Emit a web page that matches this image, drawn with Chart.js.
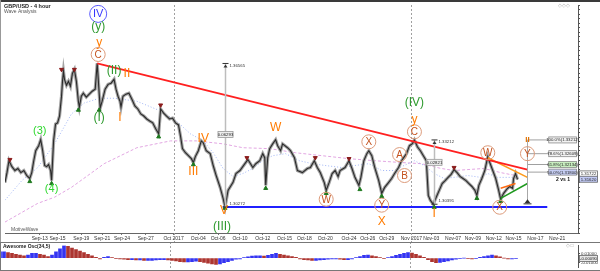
<!DOCTYPE html>
<html>
<head>
<meta charset="utf-8">
<title>GBP/USD - 4 hour</title>
<script src="https://cdn.jsdelivr.net/npm/chart.js@4.4.1/dist/chart.umd.min.js"></script>
<style>
  body { margin: 0; background: #fff; }
  #wrap { position: relative; width: 600px; height: 271px; overflow: hidden; background: #fff; }
  #chart { position: absolute; left: 0; top: 0; }
  #osc { position: absolute; left: 0; top: 242px; }
</style>
</head>
<body>
<div id="wrap">
  <canvas id="chart" width="600" height="242"></canvas>
  <canvas id="osc" width="600" height="29"></canvas>
</div>
<script>
const FONT = '"Liberation Sans", Arial, sans-serif'

// x is counted in 4-hour bars from the left edge of the chart
const dateTickBars = [17.5, 26.5, 38.5, 49, 59, 71, 85, 97.5, 107.5, 118.5, 130, 141, 151, 161.5, 173.5, 183, 192.5, 205, 215, 226, 236, 246.5, 256.5, 267.5, 278.5]
const dateTickLabels = ['Sep-13', 'Sep-15', 'Sep-19', 'Sep-21', 'Sep-24', 'Sep-27', 'Oct 2017', 'Oct-04', 'Oct-06', 'Oct-10', 'Oct-12', 'Oct-15', 'Oct-18', 'Oct-20', 'Oct-24', 'Oct-26', 'Oct-29', 'Nov 2017', 'Nov-03', 'Nov-07', 'Nov-09', 'Nov-12', 'Nov-15', 'Nov-17', 'Nov-21']
const monthStartBars = [85, 205]

// [bar, price]
const pricePath = [
  [0,1.3135],[1,1.3178],[2,1.3230],[3.5,1.3204],[5,1.3187],[6.5,1.3196],[8,1.3178],[9.5,1.3187],[11,1.3165],[12.5,1.3152],
  [13.5,1.3178],[14.5,1.3230],[15.5,1.3274],[17,1.3296],[18,1.3322],[19,1.3274],[20,1.3209],[21,1.3204],[22,1.3213],[23,1.3187],
  [23.5,1.3143],[24.5,1.3317],[25.5,1.3391],[26.5,1.3396],[27.5,1.3426],[28.5,1.3513],[29,1.3578],[29.5,1.3622],[30,1.3587],[31,1.3561],
  [32,1.3578],[33,1.3557],[34,1.3613],[35,1.3630],[36,1.3578],[37,1.3491],[37.5,1.3465],[38.5,1.3513],[39.5,1.3526],[41,1.3509],
  [42.5,1.3522],[44,1.3535],[45.5,1.3544],[46.5,1.3657],[47.5,1.3526],[48,1.3461],[49,1.3491],[50.5,1.3544],[52,1.3565],[53.5,1.3570],
  [55,1.3587],[56,1.3544],[57,1.3513],[58,1.3491],[58.5,1.3465],[59.5,1.3513],[61,1.3522],[62.5,1.3526],[64,1.3500],[65.5,1.3470],
  [67,1.3457],[68.5,1.3435],[70,1.3426],[71.5,1.3413],[73,1.3404],[74.5,1.3396],[76,1.3370],[77.5,1.3348],[78.5,1.3457],[80,1.3439],
  [81.5,1.3426],[83,1.3413],[84.5,1.3417],[86,1.3396],[87.5,1.3387],[88.5,1.3339],[89.5,1.3283],[91,1.3265],[92.5,1.3252],[94,1.3239],
  [95,1.3222],[96,1.3248],[97.5,1.3274],[99,1.3317],[100,1.3309],[101.5,1.3274],[103.5,1.3261],[105,1.3209],[106.5,1.3165],[108.5,1.3113],
  [110,1.3065],[111,1.3027],[112.5,1.3100],[115,1.3135],[116.5,1.3174],[118.5,1.3187],[121,1.3217],[122.5,1.3235],[125,1.3200],[126.5,1.3217],
  [128.5,1.3230],[130,1.3261],[131,1.3243],[131.5,1.3122],[132.5,1.3243],[133.5,1.3283],[135,1.3304],[136.5,1.3322],[137.5,1.3296],[139,1.3274],
  [140,1.3304],[142.5,1.3287],[144,1.3274],[146,1.3243],[147.5,1.3187],[150,1.3178],[152.5,1.3196],[154,1.3200],[156,1.3230],[157.5,1.3200],
  [159,1.3178],[161,1.3135],[162,1.3100],[163.5,1.3135],[165,1.3174],[166.5,1.3187],[168,1.3161],[169,1.3187],[171.5,1.3200],[173.5,1.3230],
  [175,1.3196],[176.5,1.3157],[178.5,1.3122],[179.5,1.3157],[181,1.3230],[182.5,1.3261],[183.5,1.3274],[185,1.3252],[186.5,1.3200],[188.5,1.3143],
  [190,1.3087],[191.5,1.3113],[193.5,1.3135],[195,1.3152],[196.5,1.3174],[198.5,1.3200],[200,1.3230],[202.5,1.3261],[204,1.3296],[205.5,1.3305],
  [206.5,1.3321],[208,1.3291],[209.5,1.3274],[211,1.3252],[212.5,1.3230],[213.5,1.3078],[214.5,1.3057],[216,1.3039],[217.5,1.3070],[219,1.3100],
  [220.5,1.3130],[222,1.3143],[223.5,1.3157],[225,1.3170],[226.5,1.3191],[228,1.3178],[229.5,1.3161],[231,1.3152],[232.5,1.3143],[234,1.3130],
  [235.5,1.3117],[237,1.3100],[238,1.3078],[239,1.3122],[240.5,1.3152],[242,1.3187],[243.5,1.3248],[244.5,1.3222],[246,1.3187],[247.5,1.3152],
  [249,1.3100],[250,1.3061],[251.5,1.3087],[253,1.3104],[254.5,1.3117],[256,1.3109],[256.5,1.3152],[257.5,1.3174],[258.5,1.3148]
]

const fastMA = [[0,1.3057],[8.5,1.3143],[16.5,1.3200],[25,1.3304],[33.5,1.3435],[40,1.3483],[47.5,1.3504],[55,1.3504],[66.5,1.3491],[78.5,1.3448],
  [86.5,1.3404],[93.5,1.3348],[100,1.3317],[105,1.3265],[110,1.3196],[115,1.3161],[120,1.3174],[125,1.3196],[130,1.3230],[135,1.3252],
  [141.5,1.3261],[148.5,1.3230],[155,1.3217],[161.5,1.3209],[170,1.3200],[176.5,1.3209],[183.5,1.3217],[190,1.3187],[196.5,1.3187],[200,1.3204],
  [206.5,1.3230],[211.5,1.3209],[216.5,1.3174],[221.5,1.3152],[226.5,1.3157],[233.5,1.3165],[240,1.3157],[243.5,1.3174],[248.5,1.3157],[257.5,1.3157]]
const slowMA = [[0,1.2961],[16.5,1.3043],[25,1.3070],[33.5,1.3113],[50,1.3217],[66.5,1.3287],[83.5,1.3317],[96.5,1.3317],[110,1.3304],[120,1.3287],
  [133.5,1.3283],[146.5,1.3265],[160,1.3252],[173.5,1.3239],[186.5,1.3230],[200,1.3222],[210,1.3217],[220,1.3196],[226.5,1.3187],[241.5,1.3196],
  [250,1.3178],[257.5,1.3165]]

const swingHighs = [[2.5,1.3235],[28.5,1.3630],[35,1.3630],[78.5,1.3474],[122,1.3243],[156.5,1.3243],[173.5,1.3239],[226.5,1.3200]]
const swingLows = [[12.5,1.3139],[23.5,1.3130],[37,1.3452],[47.5,1.3452],[77.5,1.3335],[95,1.3213],[111,1.3022],[131.5,1.3109],
  [162,1.3087],[179,1.3104],[190,1.3074],[216.5,1.3026],[238,1.3065],[250,1.3052]]

const redTrend = [[46.5,1.3657],[263.5,1.3191]]
const orangeTrend = [[243.5,1.3243],[263.5,1.3157]]
const greenTrend = [[250,1.3065],[263.5,1.3130]]
const innerTrend = [[250,1.3109],[257.5,1.3130]]
const supportLevel = 1.3027
const supportBars = [110, 273.5]

const measureBars = [111, 216.5]
const measureHighs = [1.36565, 1.33212]
const measureLows = [1.30272, 1.30391]
const measureBoxPrices = [1.3345, 1.3223]

const targetBar = 263.5
const targetRange = [1.3043, 1.3321]
const fibLabels = ['100.0%', '78.6%', '61.8%', '50.0%']
const fibPrices = [1.33212, 1.32609, 1.32134, 1.31800]
const fibEndBar = 274
const lastPrices = [1.31722, 1.31620]

const waveLabels = [
  {bar: 47, price: 1.3874, text: 'IV', kind: 'blueCircle'},
  {bar: 47, price: 1.3822, text: '(y)', kind: 'green'},
  {bar: 47.5, price: 1.3748, text: 'y', kind: 'orange'},
  {bar: 47, price: 1.3696, text: 'C', kind: 'circle'},
  {bar: 55, price: 1.3626, text: '(II)', kind: 'green'},
  {bar: 61.5, price: 1.3613, text: 'II', kind: 'orange'},
  {bar: 17.5, price: 1.3361, text: '(3)', kind: 'lime'},
  {bar: 23.5, price: 1.3109, text: '(4)', kind: 'lime'},
  {bar: 47.5, price: 1.3422, text: '(I)', kind: 'green'},
  {bar: 58, price: 1.3422, text: 'I', kind: 'orange'},
  {bar: 95, price: 1.3183, text: 'III', kind: 'orange'},
  {bar: 100, price: 1.3330, text: 'IV', kind: 'orange'},
  {bar: 110.5, price: 1.3013, text: 'V', kind: 'orange'},
  {bar: 109.5, price: 1.2943, text: '(III)', kind: 'green'},
  {bar: 136.5, price: 1.3378, text: 'W', kind: 'orange'},
  {bar: 162, price: 1.3061, text: 'W', kind: 'circle'},
  {bar: 183.5, price: 1.3313, text: 'X', kind: 'circle'},
  {bar: 190, price: 1.3035, text: 'Y', kind: 'circle'},
  {bar: 190, price: 1.2965, text: 'X', kind: 'orange'},
  {bar: 199, price: 1.3257, text: 'A', kind: 'circle'},
  {bar: 201.5, price: 1.3165, text: 'B', kind: 'circle'},
  {bar: 206.5, price: 1.3357, text: 'C', kind: 'circle'},
  {bar: 206.5, price: 1.3413, text: 'y', kind: 'orange'},
  {bar: 206.5, price: 1.3487, text: '(IV)', kind: 'green'},
  {bar: 216.5, price: 1.3000, text: 'I', kind: 'orange'},
  {bar: 243.5, price: 1.3265, text: 'W', kind: 'circle'},
  {bar: 249.5, price: 1.3026, text: 'X', kind: 'circle'},
  {bar: 263.5, price: 1.3261, text: 'Y', kind: 'circle'},
  {bar: 263.5, price: 1.3324, text: 'II', kind: 'small'}
]

// Awesome Oscillator, one value every 2 bars
const aoStartBar = 0
const aoStepBars = 2
const aoValues = [
  .0144,.0144,.0126,.0108,.009,.0072,.0054,.0072,.0108,.0108,
  .009,.0072,.0036,.0072,.0144,.0216,.0288,.027,.0234,.0198,
  .0162,.0126,.009,.0054,.0018,-.0018,.0018,.0036,.0009,-.0009,
  -.0018,-.0027,-.0036,-.0036,-.0045,-.0045,-.0054,-.0054,-.0054,-.0045,
  -.0036,-.0036,-.0045,-.0054,-.0063,-.0081,-.009,-.009,-.0081,-.0072,
  -.0081,-.0099,-.0117,-.0135,-.0144,-.0135,-.0108,-.0081,-.0054,-.0027,
  -.0018,.0009,.0027,.0045,.0054,.0054,.0045,.0063,.009,.0108,
  .009,.0072,.0054,.0036,.0018,-.0018,-.0036,-.0045,-.0054,-.0054,
  -.0045,-.0036,-.0027,-.0018,-.0018,-.0027,-.0036,-.0036,-.0018,.0009,
  .0036,.0063,.0072,.0054,.0036,.0009,-.0009,.0009,.0036,.0063,
  .009,.0108,.0126,.0117,.009,.0054,.0018,-.0036,-.0081,-.0108,
  -.0099,-.0081,-.0063,-.0045,-.0027,-.0009,0,-.0009,-.0018,-.0009,
  .0018,.0036,.0054,.0072,.0054,.0027,0,-.0018,-.0018,-.0009
]

const pts = arr => arr.map(([x, y]) => ({x, y}))

const waveStyles = {
  blueCircle: {color: '#3535ff', font: '11px', ring: '#5a5aff', r: 8.5},
  green: {color: '#2e9a2e', font: '12px'},
  lime: {color: '#2ed82e', font: '11px'},
  orange: {color: '#ff7b00', font: '12px'},
  small: {color: '#e07000', font: 'bold 8px'},
  circle: {color: '#c4521e', font: '10px', ring: '#dc9a7a', r: 7}
}

const txt = (ctx, s, x, y, font, color, align) => {
  ctx.font = font + ' ' + FONT
  ctx.fillStyle = color
  ctx.textAlign = align || 'left'
  ctx.textBaseline = 'middle'
  ctx.fillText(s, x, y)
}

const box = (ctx, s, x1, x2, yc, fill, stroke, color) => {
  ctx.fillStyle = fill
  ctx.fillRect(x1, yc - 3, x2 - x1, 6)
  ctx.strokeStyle = stroke
  ctx.lineWidth = 0.8
  ctx.strokeRect(x1 + 0.5, yc - 3, x2 - x1 - 1, 6)
  txt(ctx, s, (x1 + x2) / 2, yc + 0.3, '4.3px', color || '#222', 'center')
}

const seg = (ctx, x1, y1, x2, y2) => {
  ctx.beginPath(); ctx.moveTo(x1, y1); ctx.lineTo(x2, y2); ctx.stroke()
}

const mainDecor = {
  id: 'mainDecor',
  beforeDatasetsDraw(chart) {
    const {ctx, chartArea: a, scales: {x}} = chart
    ctx.save()
    ctx.strokeStyle = '#a0a0a0'
    ctx.lineWidth = 1
    ctx.setLineDash([2, 2])
    monthStartBars.forEach(b => {
      const px = Math.round(x.getPixelForValue(b)) + 0.5
      seg(ctx, px, a.top, px, chart.height)
    })
    ctx.restore()
  },
  afterDatasetsDraw(chart) {
    const {ctx, chartArea: a, scales: {x, y}} = chart
    ctx.save()

    // measuring lines
    measureBars.forEach((b, i) => {
      const px = Math.round(x.getPixelForValue(b)) + 0.5
      const top = y.getPixelForValue(measureHighs[i])
      const bot = y.getPixelForValue(measureLows[i])
      ctx.strokeStyle = '#bdbdbd'; ctx.lineWidth = 1.5
      seg(ctx, px, top, px, bot)
      ctx.strokeStyle = '#333'; ctx.lineWidth = 1
      seg(ctx, px - 3, top, px + 3, top)
      seg(ctx, px - 3, bot, px + 3, bot)
      ctx.fillStyle = '#333'
      ctx.beginPath(); ctx.moveTo(px, top + 1); ctx.lineTo(px - 2, top + 4); ctx.lineTo(px + 2, top + 4); ctx.fill()
      txt(ctx, measureHighs[i].toFixed(5), px + 4, top + 2, '4.3px', '#333')
      txt(ctx, measureLows[i].toFixed(5), px + 4, bot - 3, '4.3px', '#333')
      const yb = y.getPixelForValue(measureBoxPrices[i])
      box(ctx, (measureHighs[i] - measureLows[i]).toFixed(5), px - 8, px + 8, yb, '#eeeeee', '#999')
    })

    // target projection
    const tx = Math.round(x.getPixelForValue(targetBar)) + 0.5
    const tTop = y.getPixelForValue(targetRange[1])
    const tBot = y.getPixelForValue(targetRange[0])
    ctx.strokeStyle = '#a8a8a8'; ctx.lineWidth = 1
    seg(ctx, tx, tTop, tx, tBot)
    ctx.fillStyle = '#333'
    ctx.beginPath(); ctx.moveTo(tx, tBot - 4); ctx.lineTo(tx - 3, tBot); ctx.lineTo(tx + 3, tBot); ctx.fill()
    ctx.strokeStyle = '#333'
    seg(ctx, tx - 4, tBot + 0.5, tx + 4, tBot + 0.5)

    // fibonacci boxes
    const fx = x.getPixelForValue(fibEndBar)
    const fibFill = ['#f3f3f3', '#f3f3f3', '#c9eec0', '#c5cdf3']
    fibPrices.forEach((p, i) => {
      box(ctx, fibLabels[i] + '(' + p.toFixed(5) + ')', fx, a.right - 1, y.getPixelForValue(p), fibFill[i], '#8a8a8a')
    })

    // wave labels
    waveLabels.forEach(l => {
      const st = waveStyles[l.kind]
      const px = x.getPixelForValue(l.bar)
      const py = y.getPixelForValue(l.price)
      if (st.ring) {
        ctx.beginPath(); ctx.arc(px, py, st.r, 0, Math.PI * 2)
        ctx.strokeStyle = st.ring; ctx.lineWidth = 1; ctx.stroke()
      }
      txt(ctx, l.text, px, py + 0.5, st.font, st.color, 'center')
    })

    txt(ctx, '2 vs 1', a.right - 8, y.getPixelForValue(1.3148), 'bold 5px', '#111', 'right')

    // titles
    txt(ctx, 'GBP/USD - 4 hour', 4, 6, 'bold 5.5px', '#222')
    txt(ctx, 'Wave Analysis', 4, 12, '5px', '#555')
    txt(ctx, 'MotiveWave', 11, a.bottom - 3, '5px', '#555')
    txt(ctx, '◇◇◇', a.right - 14, 6, '5px', '#aaa', 'center')
    ctx.restore()
  },
  afterDraw(chart) {
    const {ctx, chartArea: a, scales: {y}} = chart
    ctx.save()
    box(ctx, lastPrices[0].toFixed(5), a.right + 1, a.right + 20, y.getPixelForValue(lastPrices[0]), '#ffffff', '#666')
    box(ctx, lastPrices[1].toFixed(5), a.right + 1, a.right + 20, y.getPixelForValue(lastPrices[1]) + 3, '#c2caf5', '#666')
    ctx.fillStyle = '#3a3a3a'
    ctx.fillRect(0, 0, chart.width, 2)
    ctx.strokeStyle = '#999'; ctx.lineWidth = 1
    seg(ctx, 0.5, 0, 0.5, chart.height)
    ctx.restore()
  }
}

const lineSet = (data, color, width, order, dash) => ({
  data: pts(data), showLine: true, borderColor: color, borderWidth: width,
  pointRadius: 0, fill: false, tension: 0, order, borderDash: dash || []
})

new Chart(document.getElementById('chart'), {
  type: 'scatter',
  data: {
    datasets: [
      {data: pts(swingHighs), pointStyle: 'triangle', pointRotation: 180, pointRadius: 2.3,
        pointBackgroundColor: '#8b1c1c', pointBorderColor: '#8b1c1c', order: 0},
      {data: pts(swingLows), pointStyle: 'triangle', pointRadius: 2.3,
        pointBackgroundColor: '#1f7a1f', pointBorderColor: '#1f7a1f', order: 0},
      lineSet(redTrend, '#ff2020', 2, 1),
      lineSet(orangeTrend, '#ff9a1a', 1.5, 1),
      lineSet(greenTrend, '#1f9a1f', 1.5, 1),
      lineSet(innerTrend, '#ff6a10', 1.5, 1),
      lineSet(supportBars.map(b => [b, supportLevel]), '#2020ff', 2, 1),
      ...fibPrices.map(p => lineSet([[targetBar, p], [fibEndBar, p]], '#a0a0a0', 1, 1)),
      lineSet(pricePath, '#2a2a2a', 1.1, 2),
      lineSet(pricePath, '#a3a3a3', 3.2, 3),
      lineSet(fastMA, '#9fb4f5', 1, 4, [1, 2]),
      lineSet(slowMA, '#e2a6e2', 1, 4, [3, 2])
    ]
  },
  options: {
    responsive: false,
    animation: false,
    events: [],
    layout: {padding: {top: 3, left: 0, right: 0, bottom: 0}},
    plugins: {legend: {display: false}, tooltip: {enabled: false}},
    scales: {
      x: {
        type: 'linear', min: 0, max: 289,
        afterBuildTicks: s => { s.ticks = dateTickBars.map(v => ({value: v})) },
        afterFit: s => { s.height = 9 },
        ticks: {autoSkip: false, maxRotation: 0, padding: 1, color: '#333',
          font: {size: 5, family: FONT}, callback: (v, i) => dateTickLabels[i]},
        grid: {drawOnChartArea: false, tickLength: 2, color: '#777'},
        border: {color: '#666'}
      },
      y: {
        position: 'right', min: 1.2913, max: 1.3913,
        afterFit: s => { s.width = 22 },
        ticks: {stepSize: 0.002, includeBounds: false, autoSkip: false, padding: 1, color: '#333',
          font: {size: 4.5, family: FONT},
          callback: v => Math.abs(v * 100 - Math.round(v * 100)) < 1e-6 ? v.toFixed(5) : ''},
        grid: {drawOnChartArea: false, tickLength: 2, color: '#555'},
        border: {color: '#555'}
      }
    }
  },
  plugins: [mainDecor]
})

const oscDecor = {
  id: 'oscDecor',
  beforeDatasetsDraw(chart) {
    const {ctx, chartArea: a, scales: {x}} = chart
    ctx.save()
    ctx.strokeStyle = '#a0a0a0'; ctx.lineWidth = 1
    ctx.setLineDash([2, 2])
    monthStartBars.forEach(b => {
      const px = Math.round(x.getPixelForValue(b)) + 0.5
      seg(ctx, px, 0, px, chart.height)
    })
    ctx.restore()
  },
  afterDraw(chart) {
    const {ctx, chartArea: a, scales: {y}} = chart
    ctx.save()
    ctx.strokeStyle = '#777'; ctx.lineWidth = 1
    seg(ctx, 0, 0.5, chart.width, 0.5)
    seg(ctx, 0.5, 0, 0.5, chart.height)
    seg(ctx, 0, chart.height - 0.5, chart.width, chart.height - 0.5)
    txt(ctx, 'Awesome Osc(34,5)', 3, 5, 'bold 5px', '#222')
    txt(ctx, '◇□', a.right - 8, 4, '5px', '#aaa', 'center')
    const last = aoValues[aoValues.length - 1]
    box(ctx, last.toFixed(5), a.right + 1, a.right + 20, y.getPixelForValue(last), '#e8e8e8', '#666')
    ctx.restore()
  }
}

new Chart(document.getElementById('osc'), {
  type: 'bar',
  data: {
    datasets: [{
      data: aoValues.map((v, i) => ({x: aoStartBar + i * aoStepBars, y: v})),
      backgroundColor: aoValues.map((v, i) => i > 0 && v < aoValues[i - 1] ? '#ad3530' : '#3434f2'),
      barThickness: 3
    }]
  },
  options: {
    responsive: false,
    animation: false,
    events: [],
    layout: {padding: {top: 1, bottom: 1, left: 0, right: 0}},
    plugins: {legend: {display: false}, tooltip: {enabled: false}},
    scales: {
      x: {type: 'linear', min: 0, max: 289, offset: false, display: false},
      y: {
        position: 'right', min: -0.0216, max: 0.029,
        afterFit: s => { s.width = 22 },
        afterBuildTicks: s => { s.ticks = [{value: -0.01}, {value: 0}, {value: 0.01}] },
        ticks: {padding: 1, color: '#333', font: {size: 4.3, family: FONT},
          callback: v => v === 0 ? '' : v.toFixed(5)},
        grid: {drawOnChartArea: false, tickLength: 2, color: '#555'},
        border: {color: '#555'}
      }
    }
  },
  plugins: [oscDecor]
})
</script>
</body>
</html>
